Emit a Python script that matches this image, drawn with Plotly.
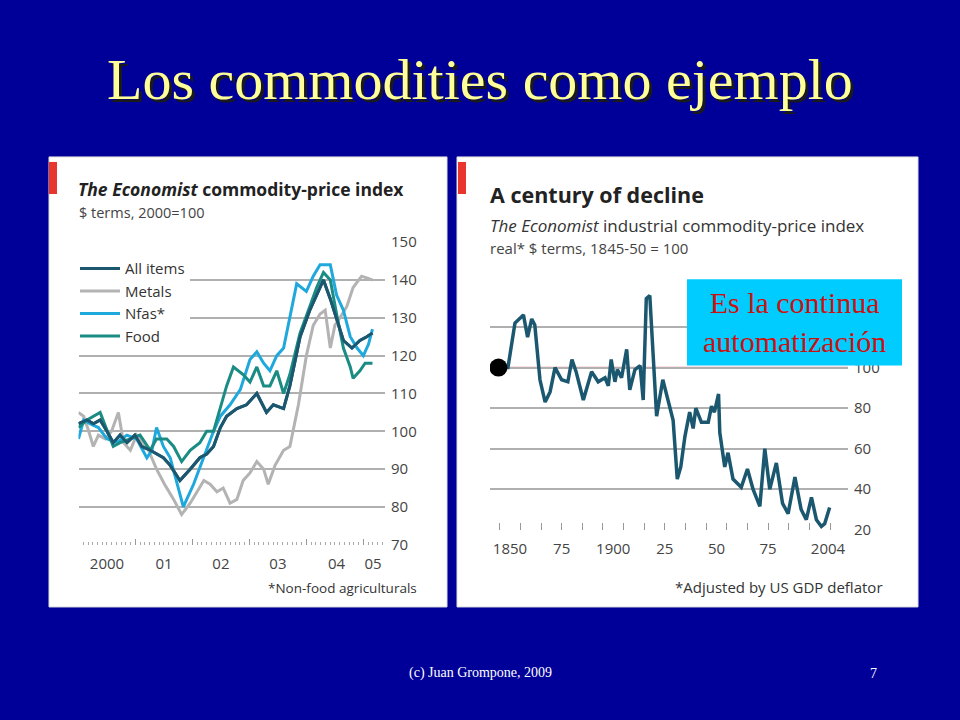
import plotly.graph_objects as go

# ---------- left chart data (fractional year, index) ----------
all_x = [2000.0,2000.15,2000.26,2000.38,2000.5,2000.61,2000.73,2000.85,2000.99,2001.11,2001.26,2001.37,2001.49,2001.61,2001.78,2001.96,2002.13,2002.25,2002.37,2002.49,2002.6,2002.78,2002.95,2003.13,2003.3,2003.42,2003.6,2003.71,2003.89,2004.06,2004.18,2004.3,2004.42,2004.53,2004.65,2004.8,2004.94,2005.06,2005.16]
all_y = [102,103,102,103,100,97,99,97,99,96,95,94,93,91,87,90,93,94,96,101,104,106,107,110,105,107,106,112,125,132,136,140,135,130,124,122,124,125,126]
met_x = [2000.0,2000.09,2000.18,2000.26,2000.35,2000.47,2000.58,2000.7,2000.79,2000.91,2001.02,2001.2,2001.37,2001.51,2001.67,2001.81,2001.96,2002.08,2002.2,2002.31,2002.43,2002.54,2002.66,2002.78,2002.89,2003.01,2003.13,2003.25,2003.33,2003.45,2003.6,2003.71,2003.86,2004.0,2004.12,2004.24,2004.33,2004.42,2004.5,2004.59,2004.71,2004.82,2004.97,2005.16]
met_y = [105,104,100,96,99,98,100,105,97,95,99,96,90,86,82,78,81,84,87,86,84,85,81,82,87,89,92,90,86,91,95,96,107,120,128,131,132,122,128,130,133,138,141,140]
nf_x = [2000.0,2000.09,2000.2,2000.35,2000.5,2000.67,2000.85,2001.02,2001.2,2001.29,2001.37,2001.49,2001.61,2001.73,2001.84,2002.02,2002.2,2002.37,2002.49,2002.66,2002.84,2003.01,2003.13,2003.25,2003.36,2003.48,2003.6,2003.71,2003.83,2004.0,2004.12,2004.24,2004.42,2004.53,2004.65,2004.77,2004.89,2005.0,2005.09,2005.16]
nf_y = [98,103,102,101,98,97,99,98,93,95,101,96,93,86,80,86,93,100,104,107,111,119,121,118,116,120,122,130,139,137,141,144,144,136,132,125,122,120,123,127]
fd_x = [2000.0,2000.15,2000.38,2000.5,2000.61,2000.73,2000.91,2001.08,2001.26,2001.37,2001.55,2001.67,2001.81,2001.96,2002.13,2002.25,2002.37,2002.49,2002.6,2002.72,2002.89,2003.01,2003.13,2003.25,2003.36,2003.48,2003.6,2003.71,2003.89,2004.06,2004.18,2004.3,2004.42,2004.53,2004.65,2004.77,2004.82,2004.94,2005.03,2005.16]
fd_y = [101,103,105,100,96,97,98,99,95,98,98,96,92,95,97,100,100,106,112,117,115,113,117,112,112,116,110,115,126,133,138,142,140,131,122,117,114,116,118,118]

left_ticks = [2000.5,2001.5,2002.5,2003.5,2004.53,2005.17]
left_ticktext = ["2000","01","02","03","04","05"]
left_y_ticks = [70,80,90,100,110,120,130,140,150]

# ---------- right chart data ----------
dec_x = [1844.4,1849,1852.4,1856.5,1858.5,1860.5,1862,1864.5,1867,1869.4,1871.8,1875,1878,1880,1882,1885.5,1889.5,1892.7,1896,1897.6,1899,1900.8,1902,1904,1906.5,1908,1910.5,1913,1914.5,1916,1917.7,1919,1921,1924,1927,1929,1931,1932.7,1934.7,1937,1938.7,1940,1942.7,1946,1947.6,1949,1951,1951.6,1954,1955.6,1958,1962,1965,1967.7,1971,1973.4,1975.8,1979,1982,1984.7,1988,1991,1993.5,1996,1998.4,2000.8,2002.4,2004.8]
dec_y = [100,100,122,126,115,124,121,94,83,88,100,94,93,104,98,84,98,93,95,91,104,93,99,95,109,89,99,101,84,134,135.5,111,76,94,81,74,45,51,66,78,70,80,73,73,81,78,87,68,51,58,45,41,50,40,31.5,60,40,53,33,28,46,30,25,36,25,21.6,23,31]
right_ticks = [1850,1875,1900,1925,1950,1975,2004]
right_ticktext = ["1850","75","1900","25","50","75","2004"]
right_y_ticks = [20,40,60,80,100,120,140]
right_y_ticktext = ["20","40","60","80","100","",""]

NAVY = "#000099"
GRID = "#b0b0b0"
SANS = "Open Sans"

def PY(py):
    # compensate for the vertical squeeze seen in the rendered screenshot
    return 1 - ((py - 12.4) / 0.97) / 720

def P(px, py):
    return px / 960, PY(py)

fig = go.Figure()
lw = 3
fig.add_trace(go.Scatter(x=all_x, y=all_y, name="All items", line=dict(color="#1b5870", width=lw), xaxis="x", yaxis="y"))
fig.add_trace(go.Scatter(x=met_x, y=met_y, name="Metals", line=dict(color="#b3b3b3", width=lw), xaxis="x", yaxis="y"))
fig.add_trace(go.Scatter(x=nf_x, y=nf_y, name="Nfas*", line=dict(color="#1fa8dc", width=lw), xaxis="x", yaxis="y"))
fig.add_trace(go.Scatter(x=fd_x, y=fd_y, name="Food", line=dict(color="#1a8c84", width=lw), xaxis="x", yaxis="y"))
fig.add_trace(go.Scatter(x=all_x, y=all_y, showlegend=False, line=dict(color="#1b5870", width=lw), xaxis="x", yaxis="y"))
fig.add_trace(go.Scatter(x=dec_x, y=dec_y, showlegend=False, line=dict(color="#1b5870", width=3.5), xaxis="x2", yaxis="y2"))
fig.add_trace(go.Scatter(x=[dec_x[0]], y=[dec_y[0]], mode="markers", showlegend=False,
                         marker=dict(color="black", size=18), xaxis="x2", yaxis="y2"))

shapes = []
for (x0, y0, x1, y1) in [(49, 158, 447, 607), (457, 158, 918, 607)]:
    a0, b0 = P(x0, y0); a1, b1 = P(x1, y1)
    shapes.append(dict(type="rect", xref="paper", yref="paper", x0=a0, x1=a1, y0=b1, y1=b0,
                       fillcolor="white", line=dict(color="#dddddd", width=1), layer="below"))
for (x0, y0, x1, y1) in [(49, 163, 57, 195), (458, 163, 466, 195)]:
    a0, b0 = P(x0, y0); a1, b1 = P(x1, y1)
    shapes.append(dict(type="rect", xref="paper", yref="paper", x0=a0, x1=a1, y0=b1, y1=b0,
                       fillcolor="#e8362e", line=dict(width=0), layer="below"))
shapes.append(dict(type="line", xref="x", yref="y", x0=2000.0, x1=2005.38, y0=100, y1=100,
                   line=dict(color="#ee8888", width=1.5), layer="below"))
shapes.append(dict(type="line", xref="x2", yref="y2", x0=1840.3, x1=2013.7, y0=100, y1=100,
                   line=dict(color="#ee8888", width=1.5), layer="below"))
a0, b0 = P(687, 280); a1, b1 = P(902, 366)
shapes.append(dict(type="rect", xref="paper", yref="paper", x0=a0, x1=a1, y0=b1, y1=b0,
                   fillcolor="#00ccff", line=dict(width=0), layer="above"))

ann = []
def T(text, px, py, size, color="#222", xanchor="left", family=SANS, yanchor="middle"):
    x, y = P(px, py)
    ann.append(dict(text=text, x=x, y=y, xref="paper", yref="paper", showarrow=False,
                    xanchor=xanchor, yanchor=yanchor, font=dict(size=size, color=color, family=family)))

T("Los commodities como ejemplo", 483, 84, 58, "#1a1a1a", "center", "Liberation Serif")
T("Los commodities como ejemplo", 480, 81, 58, "#ffff99", "center", "Liberation Serif")
T("(c) Juan Grompone, 2009", 480, 673, 14, "white", "center", "Liberation Serif")
T("7", 873, 673, 14, "white", "center", "Liberation Serif")
T("<b><i>The Economist</i> commodity-price index</b>", 76, 190, 17.5)
T("$ terms, 2000=100", 77, 213, 14.5, "#444")
T("*Non-food agriculturals", 419, 588, 13.5, "#333", "right")
T("<b>A century of decline</b>", 488, 195, 21.5)
T("<i>The Economist</i> industrial commodity-price index", 488, 226, 17, "#333")
T("real* $ terms, 1845-50 = 100", 488, 249, 15, "#444")
T("*Adjusted by US GDP deflator", 885, 587, 15, "#333", "right")
T("Es la continua<br>automatización", 794, 323, 30, "#cc1111", "center", "Liberation Serif")

xd1 = [78.5 / 960, 385 / 960]
yd1 = [PY(545), PY(243)]
xd2 = [490 / 960, 848 / 960]
yd2 = [PY(530), PY(287.3)]

tickfont = dict(size=15, color="#444", family=SANS)
fig.update_layout(
    width=960, height=720, margin=dict(l=0, r=0, t=0, b=0),
    paper_bgcolor=NAVY, plot_bgcolor="rgba(0,0,0,0)",
    shapes=shapes, annotations=ann,
    legend=dict(x=75 / 960, y=PY(253), xanchor="left", yanchor="top", bgcolor="white",
                font=dict(size=15, color="#333", family=SANS), tracegroupgap=0, itemwidth=40),
    xaxis=dict(domain=xd1, range=[2000.0, 2005.38], showgrid=False, zeroline=False,
               tickvals=[2000, 2001, 2002, 2003, 2004, 2005], showticklabels=False,
               ticks="inside", ticklen=6, tickcolor="#999",
               minor=dict(dtick=1 / 12, ticks="inside", ticklen=3, tickcolor="#aaa"),
               showline=False, anchor="y"),
    xaxis3=dict(domain=xd1, range=[2000.0, 2005.38], overlaying="x", anchor="y",
                tickvals=left_ticks, ticktext=left_ticktext, showgrid=False, zeroline=False,
                tickfont=tickfont, ticks="", side="bottom", ticklabelstandoff=8),
    yaxis=dict(domain=yd1, range=[70, 150], side="right", tickvals=left_y_ticks,
               gridcolor=GRID, gridwidth=2, zeroline=False, tickfont=tickfont, anchor="x",
               ticks="", ticklabelstandoff=5),
    xaxis2=dict(domain=xd2, range=[1840.3, 2013.7], showgrid=False, zeroline=False,
                tickvals=[1845, 1855, 1865, 1875, 1885, 1895, 1905, 1915, 1925, 1935, 1945, 1955, 1965, 1975, 1985, 1995, 2005],
                showticklabels=False, ticks="inside", ticklen=7, tickcolor="#999", anchor="y2"),
    xaxis4=dict(domain=xd2, range=[1840.3, 2013.7], overlaying="x2", anchor="y2",
                tickvals=right_ticks, ticktext=right_ticktext, showgrid=False, zeroline=False,
                tickfont=tickfont, ticks="", ticklabelstandoff=8),
    yaxis2=dict(domain=yd2, range=[20, 140], side="right", tickvals=right_y_ticks,
                ticktext=right_y_ticktext,
                gridcolor=GRID, gridwidth=2, zeroline=False, tickfont=tickfont, anchor="x2",
                ticks="", ticklabelstandoff=5),
)
fig.add_trace(go.Scatter(x=[2000.0], y=[None], xaxis="x3", yaxis="y", showlegend=False, hoverinfo="skip"))
fig.add_trace(go.Scatter(x=[1850], y=[None], xaxis="x4", yaxis="y2", showlegend=False, hoverinfo="skip"))
fig.write_html("out.html", config={"displayModeBar": False},
               post_script="document.body.style.margin='0';document.body.style.background='#000099';")
